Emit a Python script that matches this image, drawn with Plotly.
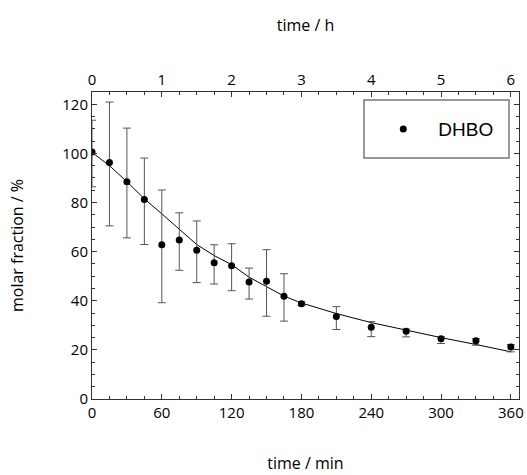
import plotly.graph_objects as go

# data (minutes, molar fraction %)
time_min = [0, 15, 30, 45, 60, 75, 90, 105, 120, 135, 150, 165, 180, 210, 240, 270, 300, 330, 360]
dhbo = [100.6, 96.3, 88.5, 81.2, 62.8, 64.7, 60.6, 55.5, 54.3, 47.6, 47.9, 41.8, 38.8, 33.6, 29.2, 27.6, 24.5, 23.7, 21.2]
err_plus = [12.9, 24.6, 21.8, 16.9, 22.3, 11.1, 11.9, 7.3, 8.9, 5.7, 12.9, 9.2, 0.8, 4.0, 2.3, 0.9, 0.8, 0.9, 1.0]
err_minus = [14.2, 25.8, 22.9, 18.3, 23.6, 12.3, 13.2, 8.7, 10.2, 6.9, 14.2, 10.1, 0.8, 5.3, 3.8, 2.3, 1.9, 1.8, 2.0]
fit = [100.4, 95.0, 88.5, 81.5, 75.4, 69.3, 62.9, 58.4, 54.7, 49.6, 45.6, 41.9, 39.1, 34.8, 31.1, 28.0, 25.0, 22.2, 19.2]

x_range_min = [0, 367]
hour_ticks = [0, 1, 2, 3, 4, 5, 6]
min_ticks = [0, 60, 120, 180, 240, 300, 360]
y_ticks = [0, 20, 40, 60, 80, 100, 120]

FONT = "Open Sans"

fig = go.Figure()
fig.add_trace(go.Scatter(
    x=time_min, y=fit, mode="lines", line=dict(color="black", width=1),
    showlegend=False, hoverinfo="skip"))
fig.add_trace(go.Scatter(
    x=time_min, y=dhbo, mode="markers", name="DHBO",
    marker=dict(color="black", size=7),
    error_y=dict(type="data", symmetric=False, array=err_plus, arrayminus=err_minus,
                 color="#555555", thickness=1, width=4)))
# invisible helper trace so that the top (hours) axis is drawn
fig.add_trace(go.Scatter(
    x=hour_ticks, y=[None] * len(hour_ticks), xaxis="x2", yaxis="y",
    mode="markers", showlegend=False, hoverinfo="skip"))

axis_common = dict(showline=True, linecolor="#333333", linewidth=1, showgrid=False,
                   zeroline=False, ticks="inside", tickcolor="#333333", ticklen=5,
                   automargin=False,
                   tickfont=dict(family=FONT, size=15, color="black"))

fig.update_layout(
    width=527, height=475,
    margin=dict(l=92, r=8, t=92, b=76),
    paper_bgcolor="white", plot_bgcolor="white",
    font=dict(family=FONT, color="black"),
    xaxis=dict(range=x_range_min, tickvals=min_ticks, mirror=False,
               minor=dict(ticks="inside", dtick=15, tick0=0, ticklen=3, tickcolor="#333333"),
               title=dict(text="time / min", font=dict(family=FONT, size=16), standoff=36),
               **axis_common),
    xaxis2=dict(range=[x_range_min[0] / 60, x_range_min[1] / 60], tickvals=hour_ticks,
                overlaying="x", side="top", anchor="y",
                minor=dict(ticks="inside", dtick=0.25, tick0=0, ticklen=3, tickcolor="#333333"),
                title=dict(text="time / h", font=dict(family=FONT, size=16), standoff=33),
                **axis_common),
    yaxis=dict(range=[0, 125], tickvals=y_ticks, mirror="ticks",
               minor=dict(ticks="inside", dtick=5, tick0=0, ticklen=3, tickcolor="#333333"),
               title=dict(text="molar fraction / %", font=dict(family=FONT, size=16), standoff=34),
               **axis_common),
    showlegend=True,
    legend=dict(x=0.647, y=0.879, xanchor="left", yanchor="middle",
                bgcolor="rgba(0,0,0,0)", borderwidth=0, itemwidth=60,
                font=dict(family="Liberation Sans", size=19, color="black")),
    shapes=[dict(type="rect", xref="paper", yref="paper",
                 x0=(364 - 92) / 427, x1=(509 - 92) / 427,
                 y0=(399 - 158) / 307, y1=(399 - 100) / 307,
                 line=dict(color="#777777", width=1.5), fillcolor="rgba(0,0,0,0)")],
)

fig.write_html("out.html", config={"displayModeBar": False, "staticPlot": True},
               post_script="document.body.style.margin='0px';")
